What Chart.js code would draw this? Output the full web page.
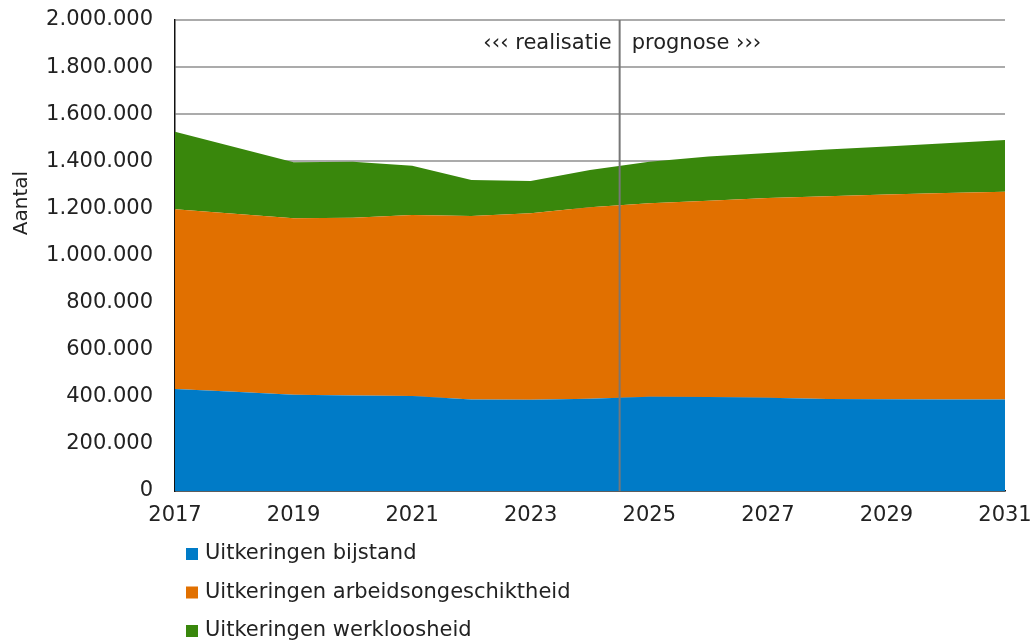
<!DOCTYPE html>
<html><head><meta charset="utf-8">
<script src="https://cdn.jsdelivr.net/npm/chart.js@4"></script>
<style>html,body{margin:0;padding:0;background:#fff;}#wrap{width:1035px;height:641px;position:relative;}</style>
</head><body><div id="wrap"><canvas id="c" width="1035" height="641"></canvas></div>
<script>
const years = [2017,2018,2019,2020,2021,2022,2023,2024,2025,2026,2027,2028,2029,2030,2031];
const bijstand = [433000,421000,409000,406000,403000,389000,388000,392000,400000,399000,396000,391000,390000,389000,389000];
const arbeidsongeschiktheid = [763000,756000,749000,754000,769000,779000,791000,813000,822000,834000,848000,861000,869000,876000,882000];
const werkloosheid = [330000,284000,238000,238000,209000,153000,137000,158000,176000,187000,191000,198000,204000,212000,219000];
const seriesNames = ['Uitkeringen bijstand','Uitkeringen arbeidsongeschiktheid','Uitkeringen werkloosheid'];
const seriesColors = ['#007BC7','#E17000','#39870C'];
const xTickLabels = [2017,2019,2021,2023,2025,2027,2029,2031];
const yAxisTitle = 'Aantal';
const splitYear = 2024.5;
const leftNote = '\u2039\u2039\u2039 realisatie';
const rightNote = 'prognose \u203A\u203A\u203A';

const FONT = '"DejaVu Sans", Verdana, sans-serif';
const TXT = '#222';

function fmt(v){ return String(Math.round(v)).replace(/\B(?=(\d{3})+(?!\d))/g,'.'); }

const seriesValues = [bijstand, arbeidsongeschiktheid, werkloosheid];
const datasets = seriesValues.map((vals,k)=>({
  label: seriesNames[k],
  data: years.map((yr,i)=>({x:yr,y:vals[i]})),
  backgroundColor: seriesColors[k],
  borderColor: seriesColors[k],
  borderWidth: 0,
  pointRadius: 0,
  tension: 0,
  fill: k===0 ? 'origin' : '-1'
}));

const extras = {
  id:'extras',
  afterDatasetsDraw(chart){
    const ctx = chart.ctx, a = chart.chartArea, xs = chart.scales.x;
    const xl = xs.getPixelForValue(splitYear);
    ctx.save();
    ctx.strokeStyle = '#777'; ctx.lineWidth = 2;
    ctx.beginPath(); ctx.moveTo(xl, a.top); ctx.lineTo(xl, a.bottom); ctx.stroke();
    ctx.fillStyle = TXT; ctx.font = '21px ' + FONT; ctx.textBaseline = 'middle';
    ctx.textAlign = 'right'; ctx.fillText(leftNote, xl - 8, a.top + 24);
    ctx.textAlign = 'left'; ctx.fillText(rightNote, xl + 12, a.top + 24);
    ctx.restore();
  },
  afterDraw(chart){
    const ctx = chart.ctx, a = chart.chartArea;
    ctx.save();
    ctx.fillStyle = TXT; ctx.font = '20px ' + FONT;
    ctx.translate(22, 203); ctx.rotate(-Math.PI/2);
    ctx.textAlign='center'; ctx.textBaseline='middle';
    ctx.fillText(yAxisTitle, 0, 0);
    ctx.restore();
    ctx.save();
    ctx.font = '21px ' + FONT; ctx.textBaseline='middle'; ctx.textAlign='left';
    chart.data.datasets.forEach((ds,i)=>{
      const cy = a.bottom + 63 + i*38.5;
      ctx.fillStyle = ds.backgroundColor;
      ctx.fillRect(186, cy-6, 12, 12);
      ctx.fillStyle = TXT;
      ctx.fillText(ds.label, 205, cy);
    });
    ctx.restore();
  }
};

new Chart(document.getElementById('c'), {
  type:'line',
  data:{datasets},
  plugins:[extras],
  options:{
    responsive:false, animation:false, devicePixelRatio:1,
    layout:{padding:{left:0,top:20,right:30,bottom:0}},
    plugins:{legend:{display:false}, tooltip:{enabled:false}},
    scales:{
      x:{type:'linear', min:2017, max:2031,
        afterBuildTicks(s){ s.ticks = xTickLabels.map(v=>({value:v})); },
        afterFit(s){ s.height = 150; },
        grid:{display:true, color:'rgba(0,0,0,0)', tickColor:'rgba(0,0,0,0)', drawTicks:true, tickLength:12},
        border:{display:true,color:'#111',width:1.5},
        ticks:{color:TXT, font:{family:FONT, size:21}, padding:0, maxRotation:0, autoSkip:false, callback:v=>String(v)}
      },
      y:{stacked:true, min:0, max:2000000,
        afterFit(s){ s.width = 175; },
        grid:{color:'#ababab', lineWidth:2, drawTicks:true, tickLength:22, tickColor:'rgba(0,0,0,0)'},
        border:{display:true,color:'#111',width:1.5},
        ticks:{stepSize:200000, color:TXT, font:{family:FONT,size:21}, padding:0, callback:v=>fmt(v)}
      }
    }
  }
});
</script></body></html>
